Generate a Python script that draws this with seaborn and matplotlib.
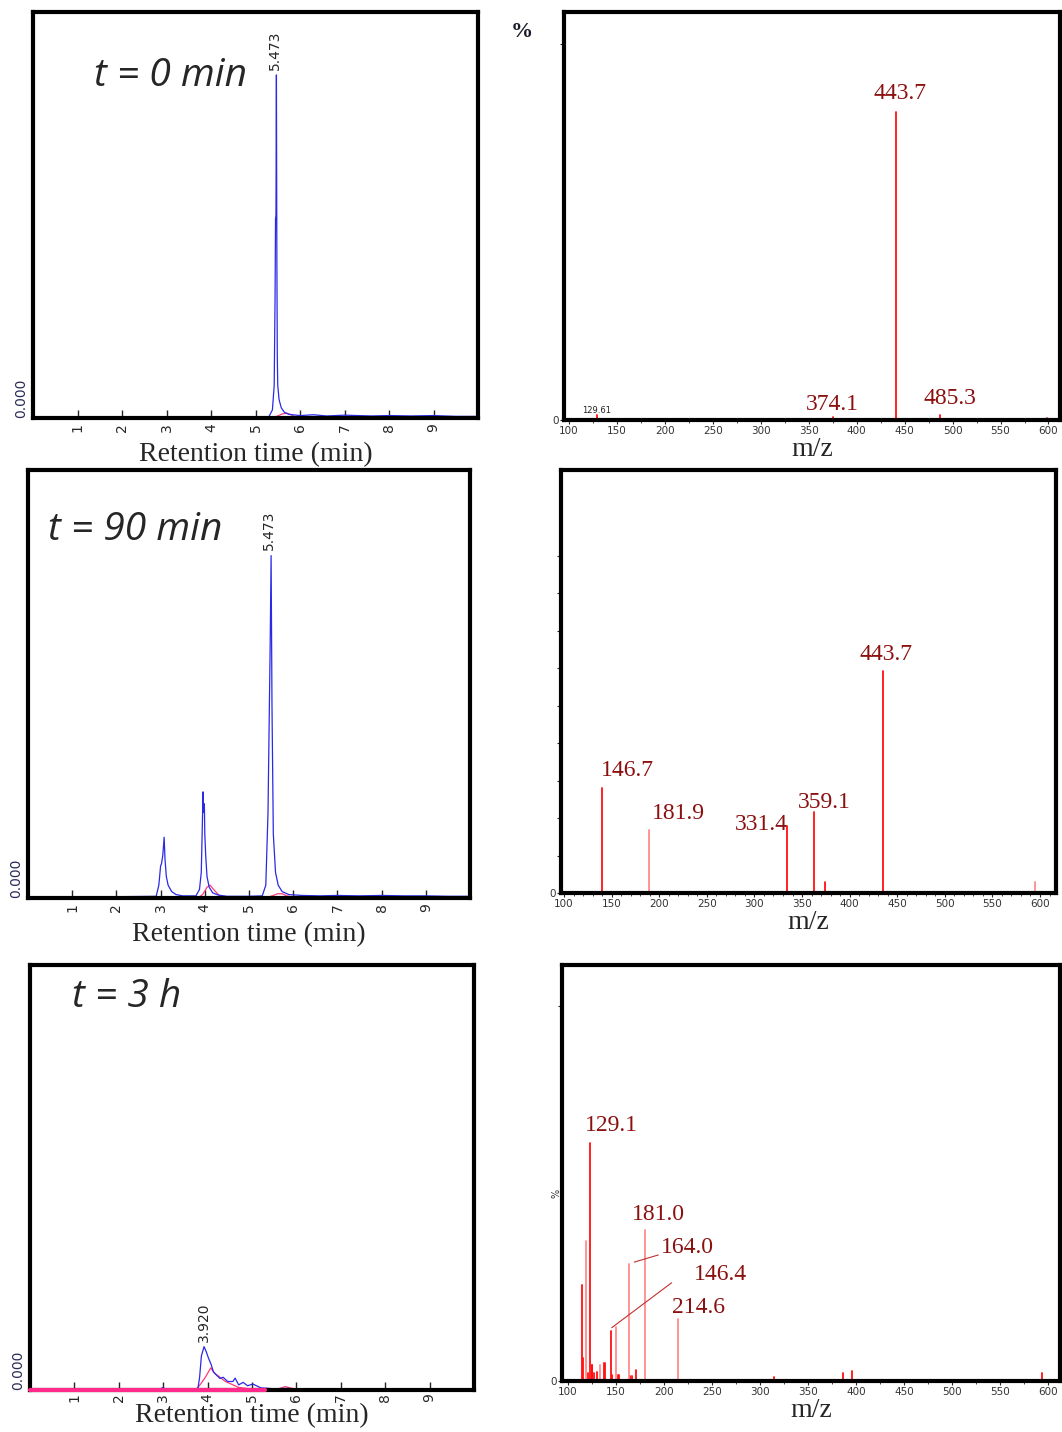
import numpy as np
import pandas as pd
import matplotlib
matplotlib.use("Agg")
import matplotlib.pyplot as plt
import seaborn as sns

# ---------------- data ----------------
# Chromatograms (retention time in min, relative absorbance as axis fraction)
t0_blue_t = [0, 1, 2, 3, 4, 5, 5.30, 5.38, 5.42, 5.44, 5.45, 5.46, 5.47, 5.48, 5.49, 5.50, 5.53, 5.58, 5.65, 5.75,
             6.0, 6.3, 6.6, 7.0, 7.3, 7.6, 8.0, 8.5, 9.0, 9.5, 10]
t0_blue_y = [0.002, 0.002, 0.002, 0.002, 0.002, 0.002, 0.003, 0.02, 0.08, 0.30, 0.49, 0.50, 0.845, 0.40, 0.15, 0.08,
             0.045, 0.025, 0.014, 0.009, 0.006, 0.008, 0.005, 0.007, 0.006, 0.005, 0.006, 0.005, 0.006, 0.004, 0.004]
t0_pink_t = [0, 5.30, 5.45, 5.60, 5.70, 5.80, 5.90, 10]
t0_pink_y = [0.0, 0.0, 0.003, 0.010, 0.012, 0.008, 0.002, 0.001]

t90_blue_t = [0, 2.0, 2.9, 2.96, 3.0, 3.02, 3.05, 3.08, 3.10, 3.13, 3.17, 3.25, 3.35, 3.5, 3.8, 3.88, 3.92, 3.94,
              3.96, 3.97, 3.99, 4.0, 4.02, 4.05, 4.10, 4.18, 4.3, 4.5, 5.0, 5.30, 5.38, 5.43, 5.46, 5.48, 5.50, 5.52,
              5.55, 5.60, 5.66, 5.75, 5.9, 6.2, 6.6, 7.0, 7.5, 8.0, 8.5, 9.0, 9.5, 10]
t90_blue_y = [0.002, 0.003, 0.004, 0.03, 0.075, 0.08, 0.10, 0.142, 0.09, 0.05, 0.03, 0.015, 0.008, 0.005, 0.005,
              0.02, 0.06, 0.15, 0.248, 0.20, 0.22, 0.15, 0.10, 0.05, 0.025, 0.012, 0.007, 0.004, 0.004, 0.005, 0.03,
              0.20, 0.44, 0.60, 0.80, 0.45, 0.15, 0.06, 0.03, 0.015, 0.008, 0.006, 0.005, 0.006, 0.005, 0.006, 0.005,
              0.005, 0.004, 0.004]
t90_pink_t = [0, 3.85, 3.95, 4.05, 4.12, 4.20, 4.35, 5.40, 5.55, 5.65, 5.75, 5.85, 6.0, 10]
t90_pink_y = [0.001, 0.001, 0.008, 0.025, 0.030, 0.020, 0.003, 0.001, 0.006, 0.010, 0.010, 0.005, 0.002, 0.001]

t3h_blue_t = [0, 2.5, 2.9, 3.0, 3.05, 3.2, 3.5, 3.78, 3.82, 3.86, 3.92, 3.97, 4.02, 4.08, 4.13, 4.2, 4.28, 4.35,
              4.45, 4.57, 4.62, 4.7, 4.8, 4.9, 5.02, 5.2, 5.5, 5.8, 6.0, 7, 8, 9, 10]
t3h_blue_y = [0.001, 0.001, 0.001, 0.006, 0.001, 0.002, 0.001, 0.002, 0.03, 0.08, 0.102, 0.09, 0.075, 0.06, 0.043,
              0.035, 0.027, 0.03, 0.02, 0.02, 0.028, 0.012, 0.018, 0.01, 0.014, 0.005, 0.003, 0.004, 0.002, 0.001,
              0.001, 0.001, 0.001]
t3h_pink_t = [0, 3.75, 3.85, 3.95, 4.07, 4.15, 4.28, 4.40, 4.51, 4.70, 5.0, 5.6, 5.75, 5.9, 6.1, 10]
t3h_pink_y = [0.0, 0.002, 0.015, 0.030, 0.052, 0.040, 0.030, 0.020, 0.015, 0.006, 0.002, 0.003, 0.008, 0.004,
              0.001, 0.001]
t3h_pink_base_end = 5.3

chrom_ticks = [1, 2, 3, 4, 5, 6, 7, 8, 9]
chrom_titles = ["t = 0 min", "t = 90 min", "t = 3 h"]
chrom_peak_labels = ["5.473", "5.473", "3.920"]
chrom_peak_label_pos = [(5.44, 0.906), (5.45, 0.86), (3.92, 0.16)]

# Mass spectra (m/z, relative intensity %, shade)
ms0_mz = [129.1, 375.1, 441.1, 487.0, 598.0]
ms0_int = [1.4, 0.9, 82.0, 1.2, 0.6]
ms0_shade = ["strong", "strong", "strong", "strong", "strong"]
ms0_labels = ["443.7", "374.1", "485.3"]
ms0_label_pos = [(445.2, 86.7), (374.3, 4.0), (497.4, 5.6)]

ms90_mz = [139.9, 189.3, 334.2, 362.6, 374.0, 435.4, 594.7]
ms90_int = [28.0, 16.8, 18.0, 21.6, 3.0, 59.2, 3.0]
ms90_shade = ["strong", "light", "strong", "strong", "strong", "strong", "light"]
ms90_labels = ["443.7", "146.7", "181.9", "331.4", "359.1"]
ms90_label_pos = [(438.2, 63.7), (166.1, 32.8), (219.7, 21.3), (306.9, 18.4), (373.1, 24.0)]

ms3h_mz = [115.2, 115.9, 119.4, 120.8, 123.5, 125.0, 125.6, 127.7, 130.5, 133.6, 137.8, 138.8, 145.1, 145.8,
           150.3, 152.0, 153.4, 163.8, 165.2, 167.2, 170.8, 180.8, 214.5, 314.4, 386.8, 395.5, 593.9]
ms3h_int = [25.5, 6.0, 37.3, 2.0, 63.5, 4.3, 4.3, 2.0, 2.5, 4.2, 4.8, 4.8, 13.2, 1.7,
            14.5, 1.5, 1.5, 31.1, 1.3, 1.3, 2.8, 40.3, 16.4, 1.1, 2.0, 2.6, 2.2]
ms3h_shade = ["strong", "strong", "light", "strong", "strong", "strong", "strong", "strong", "strong", "light",
              "strong", "strong", "strong", "strong", "light", "strong", "strong", "light", "strong", "strong",
              "strong", "light", "light", "strong", "strong", "strong", "strong"]
ms3h_labels = ["129.1", "181.0", "164.0", "146.4", "214.6"]
ms3h_label_pos = [(145.1, 68.0), (194.0, 44.5), (224.2, 35.5), (258.5, 28.3), (236.6, 19.5)]
ms3h_leaders = [((169.3, 31.7), (194.3, 33.6)), ((145.8, 14.2), (208.2, 26.2))]

ms_ticks = [100, 150, 200, 250, 300, 350, 400, 450, 500, 550, 600]

# ---------------- style ----------------
sns.set_theme(style="white")
plt.rcParams['font.family'] = ['DejaVu Sans']

W, H = 1062, 1432
fig = plt.figure(figsize=(W / 100, H / 100), dpi=100)


def rect(x0, y0, x1, y1):
    return [x0 / W, 1 - y1 / H, (x1 - x0) / W, (y1 - y0) / H]


BLUE = "#2a2ae6"
PINK = "#ff3c78"
LABEL_RED = "#8b1010"
PAL = {"strong": "#ff1010", "light": "#ff8c8c"}
SERIF = "Liberation Serif"
SPINE_W = 3.0


def style_box(ax):
    for s in ax.spines.values():
        s.set_visible(True)
        s.set_color("black")
        s.set_linewidth(SPINE_W)


def chrom(ax, bt, by, pt, py, title, title_xy, plabel, plabel_pos, base_pink=None, lpad=7, tpad=4):
    sns.lineplot(x=pt, y=py, ax=ax, color=PINK, lw=0.9, sort=False, estimator=None)
    sns.lineplot(x=bt, y=by, ax=ax, color=BLUE, lw=0.9, sort=False, estimator=None)
    if base_pink is not None:
        ax.plot([0, base_pink], [0, 0], color="#ff2a8a", lw=3.0, clip_on=False, zorder=5)
    ax.set_xlim(0, 10)
    ax.set_ylim(0, 1)
    ax.set_xticks(chrom_ticks)
    ax.set_xticklabels([str(v) for v in chrom_ticks], rotation=90, fontsize=10)
    ax.tick_params(axis="x", direction="in", length=6, width=1, bottom=True, pad=tpad)
    ax.set_yticks([])
    ax.set_xlabel("Retention time (min)", fontfamily=SERIF, fontsize=20, labelpad=lpad)
    ax.set_ylabel("")
    ax.text(-0.012, 0.0, "0.000", transform=ax.transAxes, rotation=90, fontsize=10,
            color="#2b2b5a", ha="right", va="bottom")
    ax.text(title_xy[0], title_xy[1], title, transform=ax.transAxes, fontsize=28,
            fontstyle="italic", fontfamily="Open Sans", ha="center", va="center")
    ax.text(plabel_pos[0], plabel_pos[1], plabel, rotation=90, fontsize=10,
            ha="center", va="center")
    style_box(ax)


def spectrum(ax, mz, inten, shade, xlim, ylim, yticks):
    rows = []
    for i, (m, v, s) in enumerate(zip(mz, inten, shade)):
        rows.append({"mz": m, "int": 0.0, "peak": i, "shade": s})
        rows.append({"mz": m, "int": v, "peak": i, "shade": s})
    df = pd.DataFrame(rows)
    sns.lineplot(data=df, x="mz", y="int", units="peak", hue="shade", palette=PAL,
                 estimator=None, sort=False, lw=1.3, legend=False, ax=ax)
    ax.set_xlim(*xlim)
    ax.set_ylim(*ylim)
    ax.set_xticks(ms_ticks)
    ax.set_xticklabels([str(v) for v in ms_ticks], fontsize=7.5, color="#333333")
    ax.tick_params(axis="x", direction="out", length=3, width=0.8, bottom=True, pad=1)
    ax.set_yticks(yticks)
    ax.set_yticklabels(["0"] + [""] * (len(yticks) - 1), fontsize=7.5, color="#333333")
    ax.tick_params(axis="y", direction="out", length=3, width=0.8, left=True, pad=1)
    ax.set_xlabel("m/z", fontfamily=SERIF, fontsize=20, labelpad=1)
    ax.set_ylabel("")
    style_box(ax)


def labels(ax, texts, pos, fs=17):
    for t, (x, y) in zip(texts, pos):
        ax.text(x, y, t, fontfamily=SERIF, fontsize=fs, color=LABEL_RED, ha="center", va="center")


# ---- chromatograms ----
ax1 = fig.add_axes(rect(33, 12, 478, 418))
chrom(ax1, t0_blue_t, t0_blue_y, t0_pink_t, t0_pink_y, chrom_titles[0], (0.31, 0.843),
      chrom_peak_labels[0], chrom_peak_label_pos[0])
ax3 = fig.add_axes(rect(28, 470, 470, 898))
chrom(ax3, t90_blue_t, t90_blue_y, t90_pink_t, t90_pink_y, chrom_titles[1], (0.243, 0.86),
      chrom_peak_labels[1], chrom_peak_label_pos[1])
ax5 = fig.add_axes(rect(30, 965, 474, 1390))
chrom(ax5, t3h_blue_t, t3h_blue_y, t3h_pink_t, t3h_pink_y, chrom_titles[2], (0.218, 0.925),
      chrom_peak_labels[2], chrom_peak_label_pos[2], base_pink=t3h_pink_base_end, lpad=1, tpad=2)

# ---- mass spectra ----
ax2 = fig.add_axes(rect(564, 12, 1060, 420))
spectrum(ax2, ms0_mz, ms0_int, ms0_shade, (95, 612), (0, 108.5), [0, 100])
ax2.xaxis.set_minor_locator(matplotlib.ticker.MultipleLocator(25))
ax2.tick_params(axis="x", which="minor", direction="out", length=2, width=0.6, bottom=True)
labels(ax2, ms0_labels, ms0_label_pos)
ax2.text(129.4, 2.6, "129.61", fontsize=6, ha="center", va="center", color="#222222")
fig.text(522 / W, 1 - 32 / H, "%", fontfamily=SERIF, fontsize=16, fontweight="bold",
         color="#1a1a2a", ha="center", va="center")

ax4 = fig.add_axes(rect(561, 470, 1056, 893))
spectrum(ax4, ms90_mz, ms90_int, ms90_shade, (96.8, 616.8), (0, 112.8),
         [0, 10, 20, 30, 40, 50, 60, 70, 80, 90])
ax4.xaxis.set_minor_locator(matplotlib.ticker.MultipleLocator(10))
ax4.tick_params(axis="x", which="minor", direction="out", length=2.5, width=0.6, bottom=True)
labels(ax4, ms90_labels, ms90_label_pos)

ax6 = fig.add_axes(rect(562, 965, 1060, 1381))
spectrum(ax6, ms3h_mz, ms3h_int, ms3h_shade, (94.1, 612.2), (0, 110.9), [0, 100])
ax6.xaxis.set_minor_locator(matplotlib.ticker.MultipleLocator(25))
ax6.tick_params(axis="x", which="minor", direction="out", length=2, width=0.6, bottom=True)
labels(ax6, ms3h_labels, ms3h_label_pos)
for (p0, p1) in ms3h_leaders:
    ax6.plot([p0[0], p1[0]], [p0[1], p1[1]], color="#c03030", lw=0.8)
fig.text(556 / W, 1 - 1193 / H, "%", fontsize=7, rotation=90, ha="center", va="center", color="#333333")

fig.savefig("out.png", dpi=100)
